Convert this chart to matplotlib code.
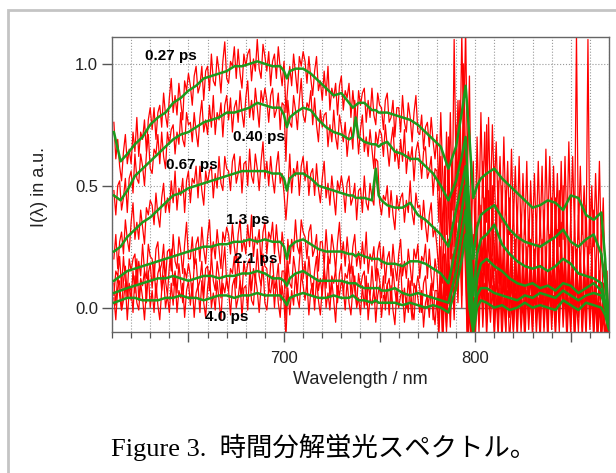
# 時間分解蛍光スペクトル (Figure 3) の再現
import numpy as np
import matplotlib.pyplot as plt
from matplotlib.patches import Rectangle
from matplotlib.ticker import FixedLocator, FixedFormatter, MultipleLocator

plt.rcParams['font.family'] = ['Liberation Sans', 'DejaVu Sans']

# 遅延時間ラベルとその位置 (nm, a.u.)
delays = ["0.27 ps", "0.40 ps", "0.67 ps", "1.3 ps", "2.1 ps", "4.0 ps"]
label_wl = [641, 687, 652, 681, 685, 670]
label_int = [1.03, 0.70, 0.585, 0.36, 0.20, -0.04]

# 生データ (赤): 1 nm 間隔 611-870 nm, 値は 1/100 a.u.
wl_raw = np.arange(611, 871)
raw_027 = [76, 61, 69, 58, 52, 64, 71, 59, 65, 59, 72, 64, 78, 62, 72, 69, 77, 64, 77, 82,
           73, 82, 69, 80, 83, 74, 88, 79, 74, 86, 94, 80, 87, 79, 92, 84, 77, 93, 89, 96,
           91, 83, 95, 99, 88, 91, 99, 85, 97, 99, 89, 104, 93, 91, 103, 97, 88, 101, 109, 94,
           92, 101, 99, 107, 94, 106, 96, 90, 104, 99, 104, 106, 93, 102, 97, 110, 98, 94, 108, 103,
           97, 105, 91, 101, 104, 94, 107, 98, 91, 101, 80, 91, 99, 91, 104, 96, 88, 103, 99, 105,
           101, 92, 103, 94, 87, 97, 103, 89, 93, 85, 97, 87, 99, 81, 90, 86, 92, 79, 91, 95,
           81, 89, 86, 92, 78, 89, 80, 74, 89, 83, 88, 90, 76, 85, 78, 90, 79, 75, 88, 83,
           82, 73, 85, 88, 76, 78, 85, 70, 82, 82, 72, 87, 76, 72, 84, 78, 68, 80, 87, 72,
           71, 79, 65, 74, 76, 66, 78, 68, 61, 71,
           48, 80, 55, 35, 72, 45, 80, 40, 110, 55,
           85, 60, 112, 70, 115, 55, 95, 30, 60, 25,
           70, 38, 80, 45, 72, 35, 78, 42, 75, 48,
           68, 40, 62, 35, 70, 38, 60, 30, 65, 35,
           58, 32, 62, 28, 55, 30, 60, 25, 52, 30,
           55, 28, 60, 30, 58, 26, 65, 32, 62, 28,
           58, 30, 55, 25, 60, 28, 62, 30, 68, 35,
           62, 30, 112, 28, 58, 30, 50, 25, 110, 22,
           50, 25, 55, 28, 60, 22, 45, 10, 15, -10]
raw_040 = [48, 38, 50, 52, 40, 45, 53, 39, 53, 56, 47, 63, 53, 51, 63, 58, 50, 63, 71, 57,
           55, 65, 63, 71, 59, 72, 62, 57, 72, 67, 73, 75, 63, 72, 67, 80, 69, 66, 80, 75,
           76, 68, 80, 72, 66, 78, 85, 72, 77, 71, 83, 74, 87, 71, 80, 77, 84, 70, 83, 87,
           77, 86, 72, 82, 85, 76, 89, 80, 74, 86, 93, 78, 85, 77, 90, 82, 74, 89, 84, 90,
           85, 76, 87, 90, 78, 81, 88, 73, 84, 83, 60, 85, 76, 74, 87, 81, 73, 85, 94, 79,
           76, 84, 82, 89, 75, 86, 75, 68, 81, 74, 79, 80, 66, 75, 68, 81, 70, 65, 79, 74,
           68, 76, 62, 71, 74, 65, 85, 75, 63, 73, 79, 64, 70, 62, 73, 65, 57, 72, 67, 73,
           71, 62, 75, 66, 58, 68, 74, 60, 65, 57, 69, 60, 73, 55, 64, 60, 66, 52, 64, 68,
           62, 53, 64, 66, 53, 56, 62, 46, 57, 56,
           35, 62, 28, 58, 30, 70, 32, 60, 40, 75,
           50, 85, 45, 100, 60, 30, 5, 40, 10, 45,
           20, 52, 25, 60, 22, 75, 28, 55, 30, 58,
           28, 52, 25, 50, 22, 48, 20, 45, 18, 42,
           15, 40, 12, 38, 15, 40, 10, 36, 14, 38,
           12, 35, 10, 38, 14, 40, 12, 42, 16, 45,
           15, 45, 18, 48, 20, 50, 15, 42, 12, 38,
           10, 36, 12, 38, 14, 40, 15, 42, 12, 45,
           15, 40, 10, 35, 5, 30, 0, 15, -5, -12]
raw_067 = [20, 30, 16, 27, 31, 22, 36, 28, 23, 35, 43, 28, 35, 28, 40, 33, 26, 41, 38, 44,
           42, 34, 47, 38, 33, 45, 51, 39, 45, 39, 52, 43, 56, 40, 49, 46, 53, 39, 52, 56,
           43, 53, 51, 58, 45, 58, 48, 42, 56, 51, 56, 58, 45, 55, 49, 62, 51, 48, 62, 57,
           56, 48, 60, 63, 51, 55, 62, 47, 59, 60, 50, 65, 54, 51, 63, 57, 48, 60, 68, 53,
           60, 50, 62, 53, 47, 58, 64, 51, 55, 47, 36, 47, 63, 47, 57, 54, 60, 46, 58, 62,
           52, 60, 46, 55, 57, 46, 59, 49, 43, 53, 60, 45, 51, 42, 54, 46, 38, 52, 48, 54,
           49, 39, 51, 54, 42, 45, 51, 36, 48, 49, 39, 54, 43, 40, 51, 45, 42, 61, 60, 43,
           38, 46, 44, 50, 37, 48, 38, 32, 46, 40, 45, 47, 35, 44, 39, 52, 39, 34, 47, 41,
           42, 32, 44, 34, 27, 38, 43, 29, 33, 25,
           15, 45, 10, 40, 5, 48, 20, 55, 25, 60,
           35, 70, 30, 80, 40, -5, 20, -12, 30, 5,
           35, 10, 42, 15, 45, 12, 48, 18, 50, 15,
           42, 10, 38, 8, 35, 5, 32, 4, 30, 2,
           28, 5, 30, 0, 26, 4, 25, -2, 28, 3,
           24, 2, 26, 0, 28, 4, 25, -3, 30, 5,
           28, 2, 32, 6, 35, 4, 30, 0, 28, 2,
           25, -2, 24, 0, 22, -4, 20, 2, 18, -5,
           20, -3, 18, -6, 15, -8, 10, -10, -5, -12]
raw_13 = [5, 15, 13, 21, 8, 21, 11, 6, 20, 15, 20, 22, 9, 19, 13, 26, 15, 12, 26, 21,
          20, 11, 24, 27, 15, 18, 26, 11, 23, 24, 15, 30, 19, 16, 29, 23, 14, 26, 35, 20,
          20, 29, 16, 26, 29, 19, 33, 24, 18, 29, 36, 21, 27, 20, 32, 24, 16, 31, 27, 33,
          30, 22, 34, 25, 19, 30, 36, 23, 28, 22, 34, 25, 38, 21, 29, 26, 32, 18, 31, 35,
          22, 31, 28, 35, 22, 34, 24, 18, 31, 24, 8, 28, 18, 28, 23, 36, 25, 22, 36, 31,
          29, 20, 31, 34, 21, 24, 30, 15, 27, 27, 17, 32, 21, 18, 30, 24, 15, 27, 35, 20,
          27, 17, 29, 20, 14, 25, 30, 17, 23, 16, 27, 18, 31, 14, 22, 19, 25, 11, 23, 27,
          16, 25, 10, 20, 23, 13, 26, 17, 11, 22, 28, 13, 19, 12, 24, 17, 9, 24, 20, 26,
          12, 21, 19, 26, 12, 24, 13, 7, 20, 14,
          0, 25, -5, 22, -8, 28, 5, 35, 10, 40,
          20, 55, 15, 65, 30, -10, 10, -15, 5, -12,
          22, 0, 30, 5, 35, 2, 32, 8, 30, 0,
          28, -2, 25, 0, 22, -5, 20, -3, 18, -6,
          20, -4, 22, -2, 18, -6, 24, 0, 20, -5,
          18, -3, 22, 0, 20, -8, 16, -2, 24, -4,
          20, -6, 18, 0, 25, -2, 22, -5, 20, -3,
          18, -6, 15, -2, 20, -4, 22, 0, 25, -2,
          22, -5, 18, -8, 15, -10, 10, -12, -6, -14]
raw_21 = [10, 1, 14, 5, -1, 11, 17, 4, 10, 3, 15, 6, 20, 3, 12, 9, 15, 2, 14, 18,
          8, 18, 4, 14, 17, 7, 20, 11, 5, 17, 24, 9, 15, 6, 18, 10, 2, 16, 12, 18,
          13, 4, 17, 20, 8, 11, 19, 4, 16, 17, 7, 22, 11, 7, 19, 13, 4, 17, 25, 10,
          7, 16, 14, 21, 8, 21, 11, 5, 19, 13, 18, 20, 7, 16, 11, 24, 13, 9, 22, 17,
          16, 6, 18, 20, 8, 11, 18, 3, 15, 15, -5, 19, 10, 8, 21, 15, 6, 19, 27, 12,
          19, 9, 21, 11, 5, 15, 21, 7, 12, 5, 17, 8, 21, 4, 13, 10, 16, 2, 14, 18,
          5, 14, 12, 18, 5, 17, 7, 1, 14, 8, 13, 15, 1, 10, 4, 17, 6, 2, 16, 11,
          4, 13, -1, 9, 12, 2, 16, 7, 1, 11, 18, 2, 8, 0, 12, 3, -5, 10, 7, 13,
          8, -2, 10, 13, 1, 4, 10, -5, 7, 7,
          -8, 15, -12, 12, -6, 18, -3, 22, 0, 28,
          8, 40, 5, 50, 20, -14, 5, -16, 0, -12,
          15, -5, 20, -2, 22, -6, 18, 0, 20, -8,
          15, -6, 18, -8, 14, -10, 16, -4, 12, -9,
          14, -7, 16, -5, 12, -9, 18, -4, 15, -8,
          16, -6, 14, -9, 18, -5, 15, -10, 20, -4,
          16, -8, 14, -6, 20, -3, 17, -9, 15, -6,
          14, -10, 12, -4, 18, -8, 15, -6, 20, -3,
          16, -9, 12, -11, 14, -12, 8, -14, -8, -15]
raw_40 = [4, -5, 8, 11, -1, 3, 10, -5, 7, 8, -2, 13, 2, -1, 10, 4, -5, 7, 15, 0,
          7, -2, 10, 1, -5, 7, 13, 0, 5, -2, 10, 1, 14, -2, 7, 4, 10, -4, 7, 11,
          1, 10, -4, 6, 9, -2, 11, 2, -4, 8, 15, 0, 6, -1, 11, 3, -5, 10, 6, 12,
          7, -3, 9, 12, 0, 4, 11, -4, 8, 9, -1, 14, 3, 1, 13, 7, -2, 9, 17, 2,
          -1, 8, 6, 13, 0, 12, 2, -4, 9, 2, -12, 8, -3, 7, 1, 14, 4, 0, 14, 9,
          3, 11, -3, 7, 10, -1, 12, 3, -3, 8, 15, 0, 6, -1, 11, 3, -6, 9, 5, 11,
          8, -1, 11, 2, -3, 8, 13, 0, 4, -3, 9, 0, 13, -5, 4, 1, 8, -6, 5, 9,
          -4, 5, 3, 10, -3, 9, -1, -7, 7, 0, 5, 7, -6, 4, -2, 11, -1, -5, 9, 4,
          -2, 7, -8, 2, 5, -4, 9, 0, -7, 4,
          -12, 8, -15, 5, -10, 10, -8, 14, -5, 18,
          2, 28, 0, 38, 12, -18, 0, -20, -6, -15,
          8, -10, 12, -8, 10, -12, 6, -6, 9, -13,
          5, -12, 8, -14, 4, -10, 7, -15, 3, -11,
          6, -13, 8, -10, 3, -15, 7, -9, 5, -12,
          8, -11, 4, -14, 9, -10, 6, -15, 10, -9,
          5, -13, 8, -10, 12, -8, 6, -14, 4, -11,
          7, -15, 3, -10, 9, -13, 5, -12, 10, -9,
          6, -14, 4, -16, 2, -15, -2, -18, -12, -20]

# 平滑化データ (緑)
wl_fit = [611, 614.5, 618, 622, 626, 630, 634, 638, 642, 646,
          650, 654, 658, 662, 666, 670, 674, 678, 682, 686,
          690, 694, 698, 700, 701.5, 703, 706, 710, 714, 718,
          722, 726, 730, 734, 736, 737.5, 739, 742, 746, 748,
          749.5, 751, 754, 758, 762, 766, 770, 774, 778, 782,
          786, 790, 793, 795, 797, 799, 801, 803, 806, 810,
          814, 818, 822, 826, 830, 834, 838, 842, 846, 850,
          854, 858, 862, 866, 868, 870]
fit_027 = [.72, .60, .63, .67, .70, .75, .78, .80, .84, .86,
           .89, .91, .94, .95, .96, .97, .99, .99, 1.00, 1.01,
           1.00, .99, .99, .97, .94, .97, .98, .98, .96, .93,
           .90, .87, .88, .84, .82, .83, .84, .84, .81, .81,
           .80, .80, .80, .79, .78, .77, .75, .72, .69, .66,
           .57, .66, .80, .91, .70, .45, .50, .53, .55, .57,
           .53, .50, .47, .44, .41, .42, .44, .43, .40, .46,
           .45, .38, .36, .39, .20, -.08]
fit_040 = [.46, .44, .48, .54, .57, .60, .63, .66, .69, .71,
           .72, .74, .76, .77, .78, .80, .80, .81, .82, .84,
           .83, .82, .82, .79, .74, .78, .80, .82, .81, .77,
           .74, .72, .71, .69, .70, .78, .70, .68, .67, .67,
           .66, .67, .68, .64, .63, .61, .61, .58, .55, .50,
           .44, .52, .62, .70, .40, .20, .33, .38, .40, .42,
           .37, .32, .29, .27, .26, .25, .27, .29, .32, .27,
           .25, .28, .30, .22, .10, -.05]
fit_067 = [.23, .25, .29, .32, .35, .37, .40, .43, .46, .47,
           .49, .50, .51, .52, .53, .54, .55, .56, .56, .56,
           .56, .55, .55, .53, .48, .53, .55, .55, .53, .50,
           .49, .48, .47, .46, .46, .45, .45, .45, .44, .57,
           .46, .44, .42, .41, .41, .43, .38, .36, .33, .30,
           .25, .40, .50, .58, .30, .05, .22, .28, .30, .34,
           .26, .22, .19, .17, .16, .17, .15, .17, .20, .18,
           .14, .13, .12, .10, .02, -.08]
fit_13 = [.11, .13, .15, .16, .17, .18, .19, .20, .21, .22,
          .23, .24, .25, .25, .26, .26, .27, .27, .28, .27,
          .28, .27, .27, .25, .20, .25, .27, .28, .26, .24,
          .23, .23, .23, .22, .22, .21, .22, .21, .20, .20,
          .20, .19, .18, .18, .17, .19, .19, .18, .16, .14,
          .10, .25, .40, .50, .20, -.05, .12, .18, .20, .17,
          .15, .12, .10, .09, .10, .08, .09, .07, .10, .09,
          .06, .08, .10, .07, .02, -.06]
fit_21 = [.06, .07, .08, .09, .10, .11, .12, .12, .13, .12,
          .11, .12, .13, .13, .12, .13, .13, .14, .14, .15,
          .14, .12, .12, .11, .09, .12, .14, .15, .13, .11,
          .11, .11, .11, .10, .10, .10, .09, .08, .08, .08,
          .08, .07, .07, .08, .06, .05, .06, .05, .04, .03,
          .02, .15, .30, .40, .10, -.08, .05, .08, .08, .06,
          .05, .04, .03, .05, .04, .06, .05, .04, .07, .05,
          .03, .05, .06, .05, .00, -.07]
fit_40 = [.02, .03, .04, .04, .03, .03, .03, .04, .04, .05,
          .04, .04, .03, .04, .05, .05, .04, .05, .05, .06,
          .05, .05, .05, .03, .01, .04, .05, .06, .05, .04,
          .04, .05, .04, .04, .05, .04, .03, .03, .02, .03,
          .02, .02, .02, .02, .01, .02, .01, .00, .01, .00,
          -.02, .08, .20, .30, .00, -.10, .00, .03, .02, .00,
          .01, -.01, .00, .02, .00, .01, .00, -.01, .03, .01,
          -.01, .02, .01, .00, -.03, -.09]

raws = [raw_027, raw_040, raw_067, raw_13, raw_21, raw_40]
fits = [fit_027, fit_040, fit_067, fit_13, fit_21, fit_40]

fig = plt.figure(figsize=(6.16, 4.73), dpi=100)

# 外枠 (灰色)
fig.patches.append(Rectangle((8 / 616, -0.1), 1.2, 1.0 - 10 / 473 + 0.1,
                             transform=fig.transFigure, fill=False,
                             ec='#c4c4c4', lw=2))

ax = fig.add_axes([0.1818, 0.2981, 0.8068, 0.6237])

for raw in raws:
    ax.plot(wl_raw, np.array(raw) / 100, color='#ff0000', lw=0.9, zorder=2)
for fit in fits:
    ax.plot(wl_fit, fit, color='#1c9a1c', lw=1.8, zorder=3)

for s, x, y in zip(delays, label_wl, label_int):
    ax.text(x, y, s, fontsize=11, fontweight='bold', ha='center', va='center', zorder=5)

ax.axhline(0, color='#707070', lw=1.0, zorder=1)
ax.set_xlim(610, 870)
ax.set_ylim(-0.10, 1.11)

ax.xaxis.set_major_locator(FixedLocator([650, 700, 750, 800, 850]))
ax.xaxis.set_major_formatter(FixedFormatter(['', '700', '', '800', '']))
ax.xaxis.set_minor_locator(MultipleLocator(10))
ax.set_yticks([0, 0.5, 1.0])
ax.set_yticklabels(['0.0', '0.5', '1.0'])

ax.tick_params(axis='both', which='major', direction='out', length=7, width=1,
               color='#555555', labelsize=12, labelcolor='#222222')
ax.tick_params(axis='x', which='major', pad=7)
ax.tick_params(axis='y', which='major', pad=3)
ax.tick_params(axis='x', which='minor', direction='out', length=4, width=0.9, color='#555555')

ax.set_axisbelow(True)
ax.grid(which='both', axis='x', ls=':', color='#999999', lw=0.8)
ax.grid(which='major', axis='y', ls=':', color='#999999', lw=0.8)
for sp in ax.spines.values():
    sp.set_color('#666666')
    sp.set_linewidth(1.0)

ax.set_xlabel('Wavelength / nm', fontsize=13, color='#222222')
ax.xaxis.set_label_coords(0.5, -0.132)
ax.set_ylabel('I(λ) in a.u.', fontsize=13, color='#222222')
ax.yaxis.set_label_coords(-0.128, 0.49)

fig.text(0.526, 0.055, 'Figure 3.  時間分解蛍光スペクトル。', fontsize=19,
         family=['Liberation Serif', 'Noto Sans CJK JP'], ha='center', va='center')

fig.savefig('out.png', dpi=100)
